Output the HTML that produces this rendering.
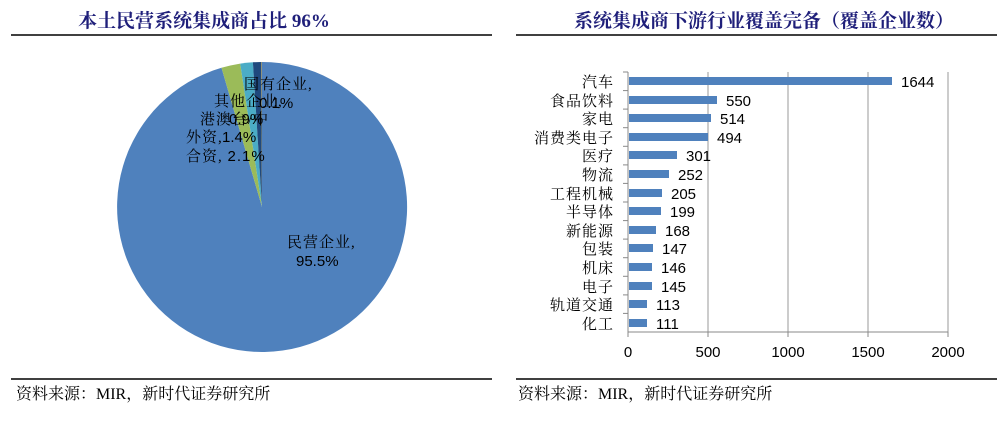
<!DOCTYPE html>
<html><head><meta charset="utf-8"><style>
body{margin:0;background:#fff;}
svg text{font-family:"Liberation Sans","Noto Sans CJK SC",sans-serif;}
.cj{font-family:"Liberation Serif","Noto Serif CJK SC",serif;}
</style></head><body>
<svg width="997" height="417" xmlns="http://www.w3.org/2000/svg">
<text x="204" y="27" class="cj" font-size="19" font-weight="bold" fill="#1f1f7a" text-anchor="middle">本土民营系统集成商占比 96%</text>
<line x1="11" y1="35" x2="492" y2="35" stroke="#000" stroke-width="1.5"/>
<text x="764" y="27" class="cj" font-size="19" font-weight="bold" fill="#1f1f7a" text-anchor="middle">系统集成商下游行业覆盖完备（覆盖企业数）</text>
<line x1="516" y1="35" x2="997" y2="35" stroke="#000" stroke-width="1.5"/>
<line x1="11" y1="379" x2="492" y2="379" stroke="#000" stroke-width="1.5"/>
<line x1="516" y1="379" x2="997" y2="379" stroke="#000" stroke-width="1.5"/>
<text x="16" y="399" class="cj" font-size="16" fill="#000">资料来源：MIR，新时代证券研究所</text>
<text x="518" y="399" class="cj" font-size="16" fill="#000">资料来源：MIR，新时代证券研究所</text>

<!-- pie -->
<path d="M262,207 L262,62 A145,145 0 1 1 221.5,67.8 Z" fill="#4f81bd"/>
<path d="M262,207 L221.5,67.8 A145,145 0 0 1 240.2,63.6 Z" fill="#9bbb59"/>
<path d="M262,207 L240.2,63.6 A145,145 0 0 1 252.9,62.3 Z" fill="#4bacc6"/>
<path d="M262,207 L252.9,62.3 A145,145 0 0 1 261.1,62 Z" fill="#1f497d"/>
<path d="M262,207 L261.1,62 A145,145 0 0 1 262,62 Z" fill="#8a8a6a"/>
<g font-size="15" fill="#000">
<text x="244" y="89" class="cj" letter-spacing="1">国有企业,</text>
<text x="259" y="108">0.1%</text>
<text x="214" y="106" class="cj" letter-spacing="1">其他企业,</text>
<text x="229" y="124">0.9%</text>
<text x="200" y="124" class="cj" letter-spacing="1">港澳台/中</text>
<text x="222" y="142">1.4%</text>
<text x="186" y="142" class="cj" letter-spacing="1">外资,</text>
<text x="186" y="161" class="cj" letter-spacing="1">合资, <tspan font-family="Liberation Sans">2.1%</tspan></text>
<text x="287" y="247" class="cj" letter-spacing="1">民营企业,</text>
<text x="296" y="266">95.5%</text>
</g>

<!-- bar chart -->
<g stroke="#999" stroke-width="1">
<line x1="708" y1="72" x2="708" y2="332"/>
<line x1="788" y1="72" x2="788" y2="332"/>
<line x1="868" y1="72" x2="868" y2="332"/>
<line x1="948" y1="72" x2="948" y2="332"/>
</g>
<g stroke="#888" stroke-width="1">
<line x1="628" y1="72" x2="628" y2="332"/>
<line x1="628" y1="332" x2="948" y2="332"/>
<line x1="628" y1="332" x2="628" y2="337"/><line x1="708" y1="332" x2="708" y2="337"/><line x1="788" y1="332" x2="788" y2="337"/><line x1="868" y1="332" x2="868" y2="337"/><line x1="948" y1="332" x2="948" y2="337"/>
<line x1="623" y1="72" x2="628" y2="72"/><line x1="623" y1="90.6" x2="628" y2="90.6"/><line x1="623" y1="109.1" x2="628" y2="109.1"/><line x1="623" y1="127.7" x2="628" y2="127.7"/><line x1="623" y1="146.3" x2="628" y2="146.3"/><line x1="623" y1="164.9" x2="628" y2="164.9"/><line x1="623" y1="183.4" x2="628" y2="183.4"/><line x1="623" y1="202" x2="628" y2="202"/><line x1="623" y1="220.6" x2="628" y2="220.6"/><line x1="623" y1="239.1" x2="628" y2="239.1"/><line x1="623" y1="257.7" x2="628" y2="257.7"/><line x1="623" y1="276.3" x2="628" y2="276.3"/><line x1="623" y1="294.9" x2="628" y2="294.9"/><line x1="623" y1="313.4" x2="628" y2="313.4"/>
</g>
<g font-size="15" fill="#000" text-anchor="middle">
<text x="628" y="357">0</text><text x="708" y="357">500</text><text x="788" y="357">1000</text><text x="868" y="357">1500</text><text x="948" y="357">2000</text>
</g>
<g fill="#4f81bd">
<rect x="629" y="77" width="263" height="8"/>
<rect x="629" y="96" width="88" height="8"/>
<rect x="629" y="114" width="82" height="8"/>
<rect x="629" y="133" width="79" height="8"/>
<rect x="629" y="151" width="48" height="8"/>
<rect x="629" y="170" width="40" height="8"/>
<rect x="629" y="189" width="33" height="8"/>
<rect x="629" y="207" width="32" height="8"/>
<rect x="629" y="226" width="27" height="8"/>
<rect x="629" y="244" width="24" height="8"/>
<rect x="629" y="263" width="23" height="8"/>
<rect x="629" y="282" width="23" height="8"/>
<rect x="629" y="300" width="18" height="8"/>
<rect x="629" y="319" width="18" height="8"/>
</g>
<g font-size="15" fill="#000">
<text x="901" y="87">1644</text>
<text x="726" y="106">550</text>
<text x="720" y="124">514</text>
<text x="717" y="143">494</text>
<text x="686" y="161">301</text>
<text x="678" y="180">252</text>
<text x="671" y="199">205</text>
<text x="670" y="217">199</text>
<text x="665" y="236">168</text>
<text x="662" y="254">147</text>
<text x="661" y="273">146</text>
<text x="661" y="292">145</text>
<text x="656" y="310">113</text>
<text x="656" y="329">111</text>
</g>
<g font-size="15" fill="#000" text-anchor="end" letter-spacing="1">
<text x="614" y="87" class="cj">汽车</text>
<text x="614" y="106" class="cj">食品饮料</text>
<text x="614" y="124" class="cj">家电</text>
<text x="614" y="143" class="cj">消费类电子</text>
<text x="614" y="161" class="cj">医疗</text>
<text x="614" y="180" class="cj">物流</text>
<text x="614" y="199" class="cj">工程机械</text>
<text x="614" y="217" class="cj">半导体</text>
<text x="614" y="236" class="cj">新能源</text>
<text x="614" y="254" class="cj">包装</text>
<text x="614" y="273" class="cj">机床</text>
<text x="614" y="292" class="cj">电子</text>
<text x="614" y="310" class="cj">轨道交通</text>
<text x="614" y="329" class="cj">化工</text>
</g>
</svg>
</body></html>
